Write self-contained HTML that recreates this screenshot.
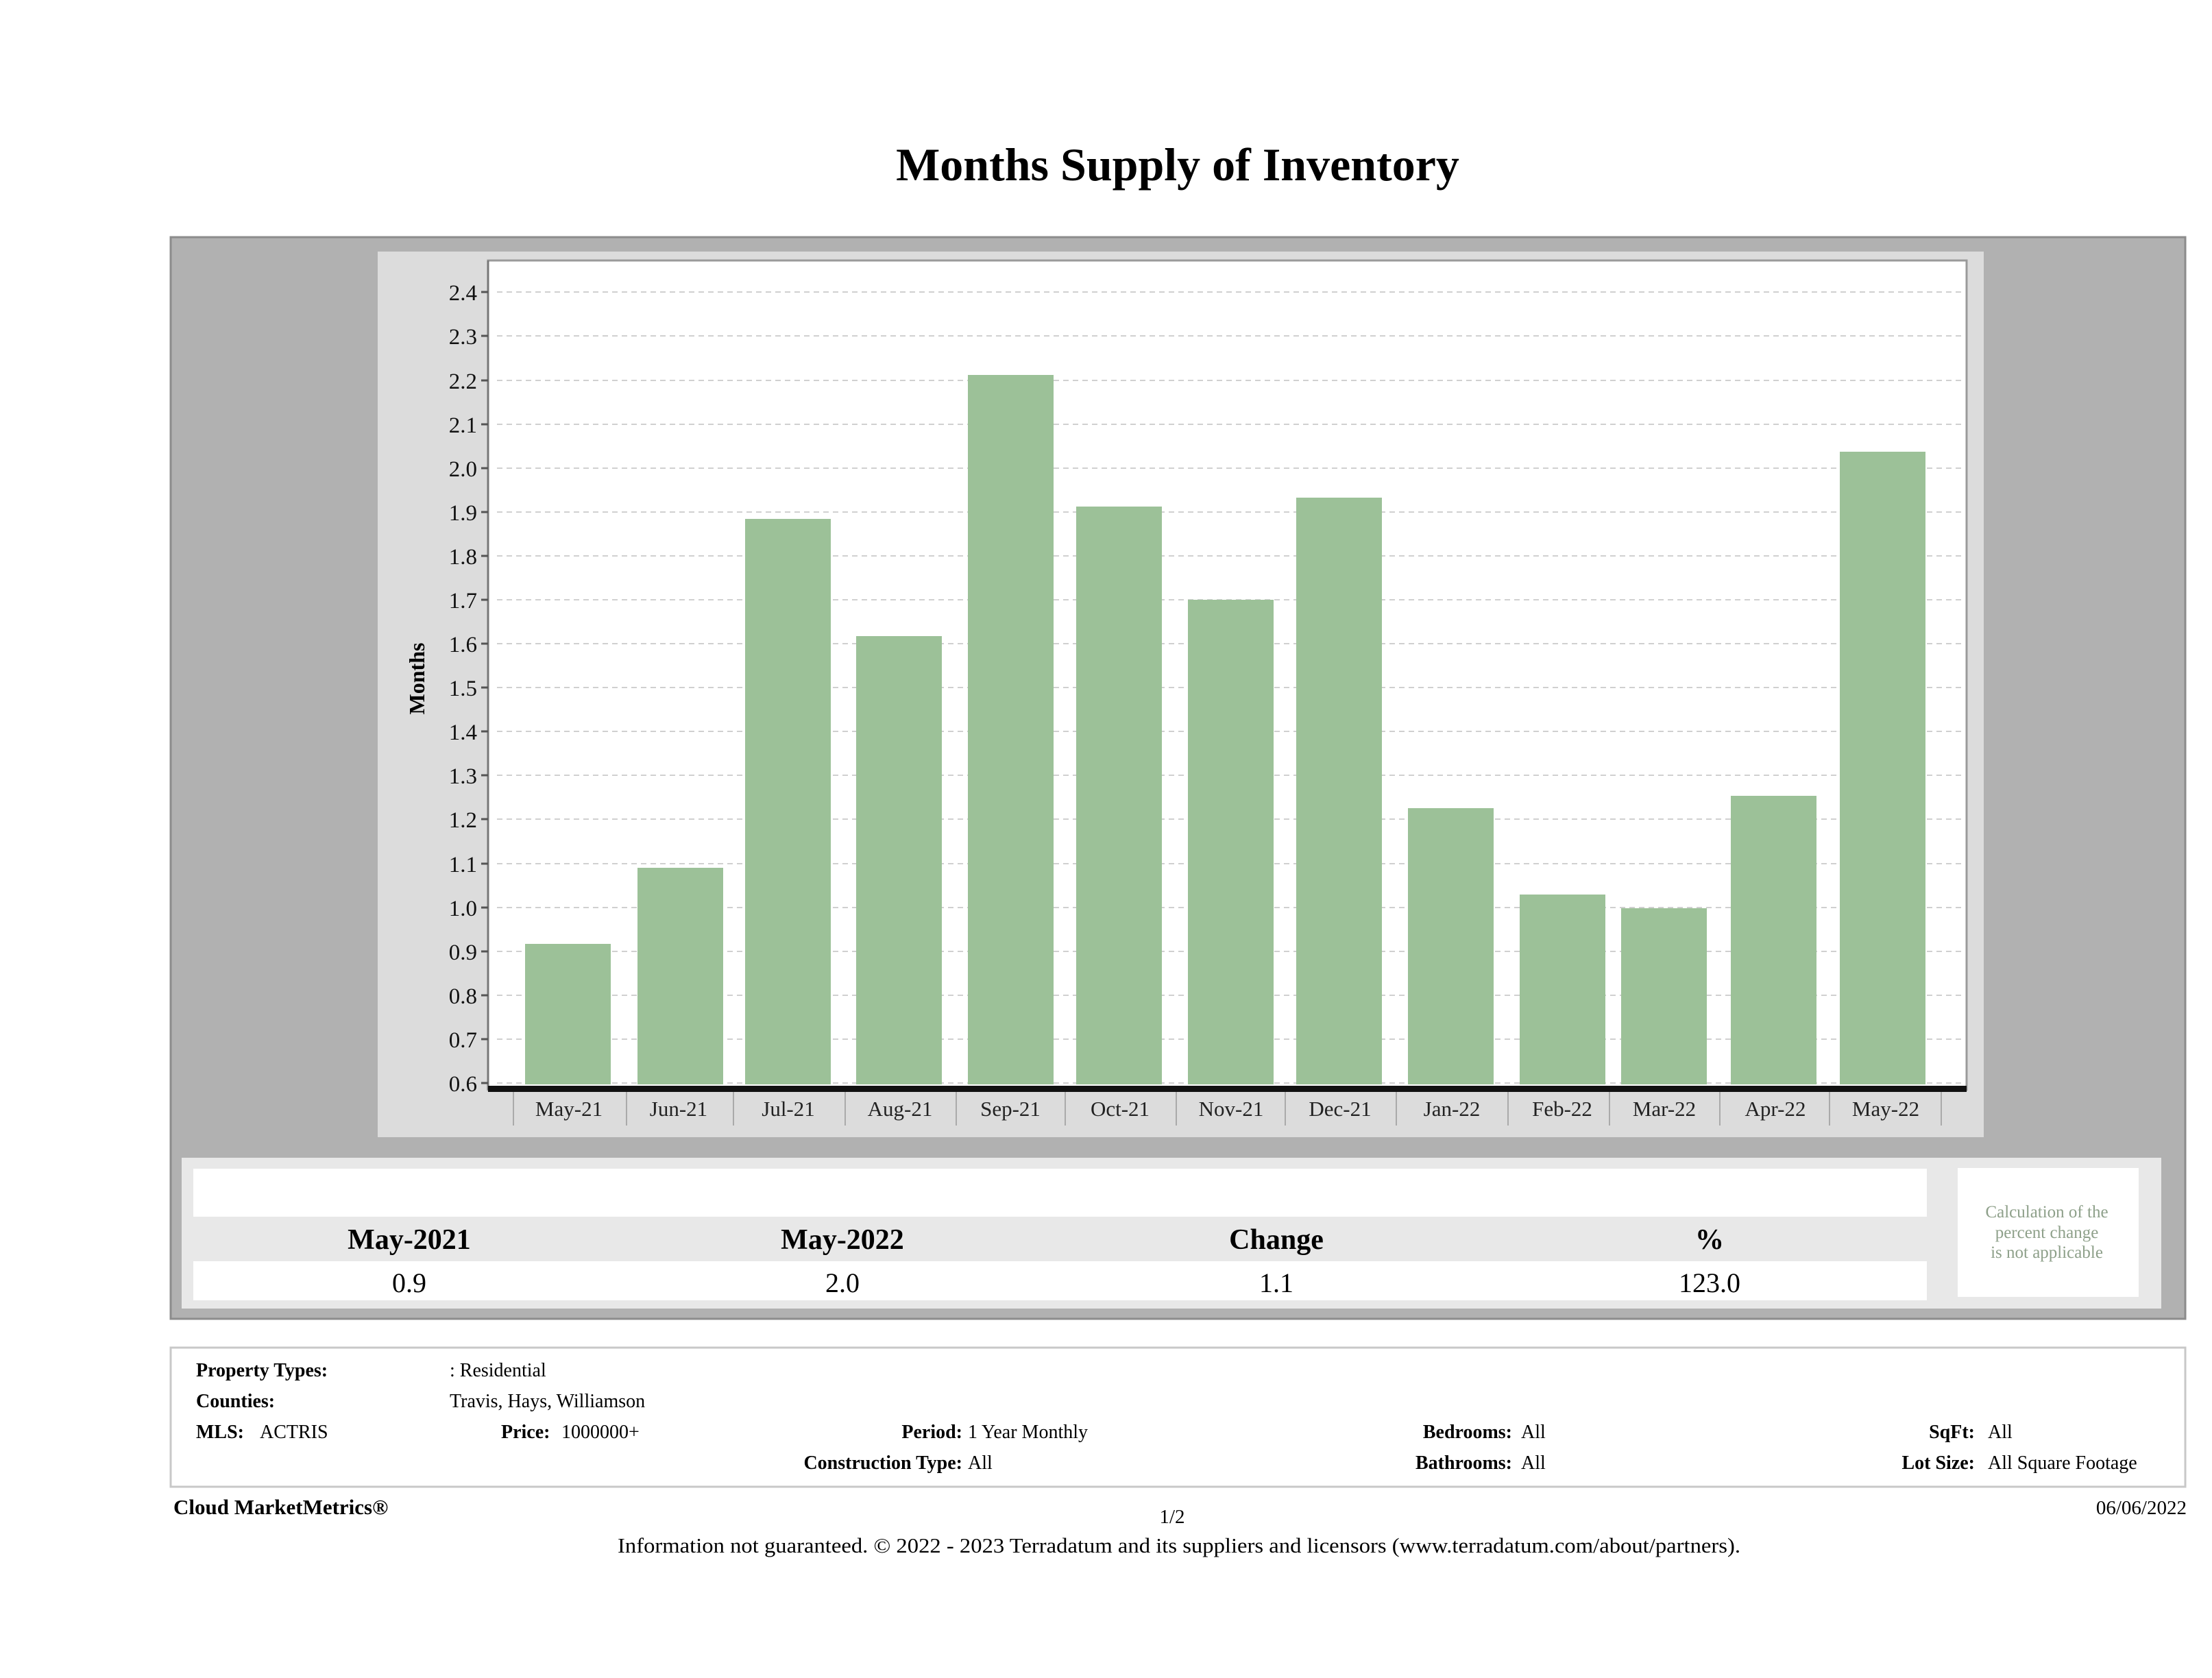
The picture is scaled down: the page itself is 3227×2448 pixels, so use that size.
<!DOCTYPE html>
<html><head><meta charset="utf-8"><style>
html,body{margin:0;padding:0;background:#fff;}
svg{display:block;font-family:"Liberation Serif",serif;}
</style></head><body>
<svg width="3227" height="2448" viewBox="0 0 3227 2448" xmlns="http://www.w3.org/2000/svg">
<rect width="3227" height="2448" fill="#fff"/>
<text x="1718" y="263" font-size="68" font-weight="bold" text-anchor="middle" fill="#000">Months Supply of Inventory</text>
<rect x="249" y="346" width="2939" height="1578" fill="#b1b1b1" stroke="#8c8c8c" stroke-width="3"/>
<rect x="551" y="367" width="2343" height="1292" fill="#dcdcdc"/>
<rect x="712" y="380" width="2157" height="1210" fill="#fff" stroke="#9a9a9a" stroke-width="3"/>
<line x1="712" y1="380" x2="712" y2="1590" stroke="#777" stroke-width="3"/>
<g stroke="#d0d0d0" stroke-width="2" stroke-dasharray="8,6">
<line x1="725" x2="2866" y1="1580" y2="1580"/><line x1="725" x2="2866" y1="1516" y2="1516"/>
<line x1="725" x2="2866" y1="1452" y2="1452"/><line x1="725" x2="2866" y1="1388" y2="1388"/>
<line x1="725" x2="2866" y1="1324" y2="1324"/><line x1="725" x2="2866" y1="1260" y2="1260"/>
<line x1="725" x2="2866" y1="1195" y2="1195"/><line x1="725" x2="2866" y1="1131" y2="1131"/>
<line x1="725" x2="2866" y1="1067" y2="1067"/><line x1="725" x2="2866" y1="1003" y2="1003"/>
<line x1="725" x2="2866" y1="939" y2="939"/><line x1="725" x2="2866" y1="875" y2="875"/>
<line x1="725" x2="2866" y1="811" y2="811"/><line x1="725" x2="2866" y1="747" y2="747"/>
<line x1="725" x2="2866" y1="683" y2="683"/><line x1="725" x2="2866" y1="619" y2="619"/>
<line x1="725" x2="2866" y1="555" y2="555"/><line x1="725" x2="2866" y1="490" y2="490"/>
<line x1="725" x2="2866" y1="426" y2="426"/>
</g>
<g stroke="#555" stroke-width="3">
<line x1="702" x2="712" y1="1580" y2="1580"/><line x1="702" x2="712" y1="1516" y2="1516"/>
<line x1="702" x2="712" y1="1452" y2="1452"/><line x1="702" x2="712" y1="1388" y2="1388"/>
<line x1="702" x2="712" y1="1324" y2="1324"/><line x1="702" x2="712" y1="1260" y2="1260"/>
<line x1="702" x2="712" y1="1195" y2="1195"/><line x1="702" x2="712" y1="1131" y2="1131"/>
<line x1="702" x2="712" y1="1067" y2="1067"/><line x1="702" x2="712" y1="1003" y2="1003"/>
<line x1="702" x2="712" y1="939" y2="939"/><line x1="702" x2="712" y1="875" y2="875"/>
<line x1="702" x2="712" y1="811" y2="811"/><line x1="702" x2="712" y1="747" y2="747"/>
<line x1="702" x2="712" y1="683" y2="683"/><line x1="702" x2="712" y1="619" y2="619"/>
<line x1="702" x2="712" y1="555" y2="555"/><line x1="702" x2="712" y1="490" y2="490"/>
<line x1="702" x2="712" y1="426" y2="426"/>
</g>
<g font-size="33" text-anchor="end" fill="#111">
<text x="696" y="1592">0.6</text><text x="696" y="1528">0.7</text><text x="696" y="1464">0.8</text>
<text x="696" y="1400">0.9</text><text x="696" y="1336">1.0</text><text x="696" y="1272">1.1</text>
<text x="696" y="1207">1.2</text><text x="696" y="1143">1.3</text><text x="696" y="1079">1.4</text>
<text x="696" y="1015">1.5</text><text x="696" y="951">1.6</text><text x="696" y="887">1.7</text>
<text x="696" y="823">1.8</text><text x="696" y="759">1.9</text><text x="696" y="695">2.0</text>
<text x="696" y="631">2.1</text><text x="696" y="567">2.2</text><text x="696" y="502">2.3</text>
<text x="696" y="438">2.4</text>
</g>
<text transform="translate(619,990) rotate(-90)" font-size="32" font-weight="bold" text-anchor="middle">Months</text>
<g fill="#9cc198">
<rect x="766" y="1377" width="125" height="205"/>
<rect x="930" y="1266" width="125" height="316"/>
<rect x="1087" y="757" width="125" height="825"/>
<rect x="1249" y="928" width="125" height="654"/>
<rect x="1412" y="547" width="125" height="1035"/>
<rect x="1570" y="739" width="125" height="843"/>
<rect x="1733" y="875" width="125" height="707"/>
<rect x="1891" y="726" width="125" height="856"/>
<rect x="2054" y="1179" width="125" height="403"/>
<rect x="2217" y="1305" width="125" height="277"/>
<rect x="2365" y="1325" width="125" height="257"/>
<rect x="2525" y="1161" width="125" height="421"/>
<rect x="2684" y="659" width="125" height="923"/>
</g>
<rect x="712" y="1584" width="2157" height="9" fill="#111"/>
<g stroke="#aaa" stroke-width="2">
<line x1="749" x2="749" y1="1593" y2="1642"/><line x1="914" x2="914" y1="1593" y2="1642"/>
<line x1="1070" x2="1070" y1="1593" y2="1642"/><line x1="1233" x2="1233" y1="1593" y2="1642"/>
<line x1="1395" x2="1395" y1="1593" y2="1642"/><line x1="1554" x2="1554" y1="1593" y2="1642"/>
<line x1="1716" x2="1716" y1="1593" y2="1642"/><line x1="1875" x2="1875" y1="1593" y2="1642"/>
<line x1="2037" x2="2037" y1="1593" y2="1642"/><line x1="2200" x2="2200" y1="1593" y2="1642"/>
<line x1="2348" x2="2348" y1="1593" y2="1642"/><line x1="2509" x2="2509" y1="1593" y2="1642"/>
<line x1="2669" x2="2669" y1="1593" y2="1642"/><line x1="2832" x2="2832" y1="1593" y2="1642"/>
</g>
<g font-size="31" text-anchor="middle" fill="#222">
<text x="830" y="1628">May-21</text><text x="990" y="1628">Jun-21</text><text x="1150" y="1628">Jul-21</text>
<text x="1313" y="1628">Aug-21</text><text x="1474" y="1628">Sep-21</text><text x="1634" y="1628">Oct-21</text>
<text x="1796" y="1628">Nov-21</text><text x="1955" y="1628">Dec-21</text><text x="2118" y="1628">Jan-22</text>
<text x="2279" y="1628">Feb-22</text><text x="2428" y="1628">Mar-22</text><text x="2590" y="1628">Apr-22</text>
<text x="2751" y="1628">May-22</text>
</g>
<rect x="265" y="1689" width="2888" height="220" fill="#e8e8e8"/>
<rect x="282" y="1705" width="2529" height="70" fill="#fff"/>
<rect x="282" y="1840" width="2529" height="57" fill="#fff"/>
<g font-size="42" font-weight="bold" text-anchor="middle">
<text x="597" y="1822">May-2021</text><text x="1229" y="1822">May-2022</text>
<text x="1862" y="1822">Change</text><text x="2494" y="1822">%</text>
</g>
<g font-size="40" text-anchor="middle">
<text x="597" y="1885">0.9</text><text x="1229" y="1885">2.0</text>
<text x="1862" y="1885">1.1</text><text x="2494" y="1885">123.0</text>
</g>
<rect x="2856" y="1704" width="264" height="188" fill="#fff"/>
<g font-size="25" text-anchor="middle" fill="#8ea08a">
<text x="2986" y="1776">Calculation of the</text>
<text x="2986" y="1806">percent change</text>
<text x="2986" y="1835">is not applicable</text>
</g>
<rect x="249" y="1966" width="2939" height="203" fill="#fff" stroke="#c8c8c8" stroke-width="3"/>
<g font-size="28" fill="#000">
<text x="286" y="2008" font-weight="bold">Property Types:</text>
<text x="656" y="2008">: Residential</text>
<text x="286" y="2053" font-weight="bold">Counties:</text>
<text x="656" y="2053">Travis, Hays, Williamson</text>
<text x="286" y="2098" font-weight="bold">MLS:</text>
<text x="379" y="2098">ACTRIS</text>
<text x="731" y="2098" font-weight="bold">Price:</text>
<text x="819" y="2098">1000000+</text>
<text x="1404" y="2098" font-weight="bold" text-anchor="end">Period:</text>
<text x="1412" y="2098">1 Year Monthly</text>
<text x="1404" y="2143" font-weight="bold" text-anchor="end">Construction Type:</text>
<text x="1412" y="2143">All</text>
<text x="2206" y="2098" font-weight="bold" text-anchor="end">Bedrooms:</text>
<text x="2219" y="2098">All</text>
<text x="2206" y="2143" font-weight="bold" text-anchor="end">Bathrooms:</text>
<text x="2219" y="2143">All</text>
<text x="2881" y="2098" font-weight="bold" text-anchor="end">SqFt:</text>
<text x="2900" y="2098">All</text>
<text x="2881" y="2143" font-weight="bold" text-anchor="end">Lot Size:</text>
<text x="2900" y="2143">All Square Footage</text>
</g>
<text x="253" y="2209" font-size="31" font-weight="bold">Cloud MarketMetrics®</text>
<text x="1710" y="2222" font-size="29" text-anchor="middle">1/2</text>
<text x="3190" y="2209" font-size="29" text-anchor="end">06/06/2022</text>
<text x="1720" y="2265" font-size="30.5" text-anchor="middle" textLength="1638" lengthAdjust="spacingAndGlyphs">Information not guaranteed. © 2022 - 2023 Terradatum and its suppliers and licensors (www.terradatum.com/about/partners).</text>
</svg>
</body></html>
